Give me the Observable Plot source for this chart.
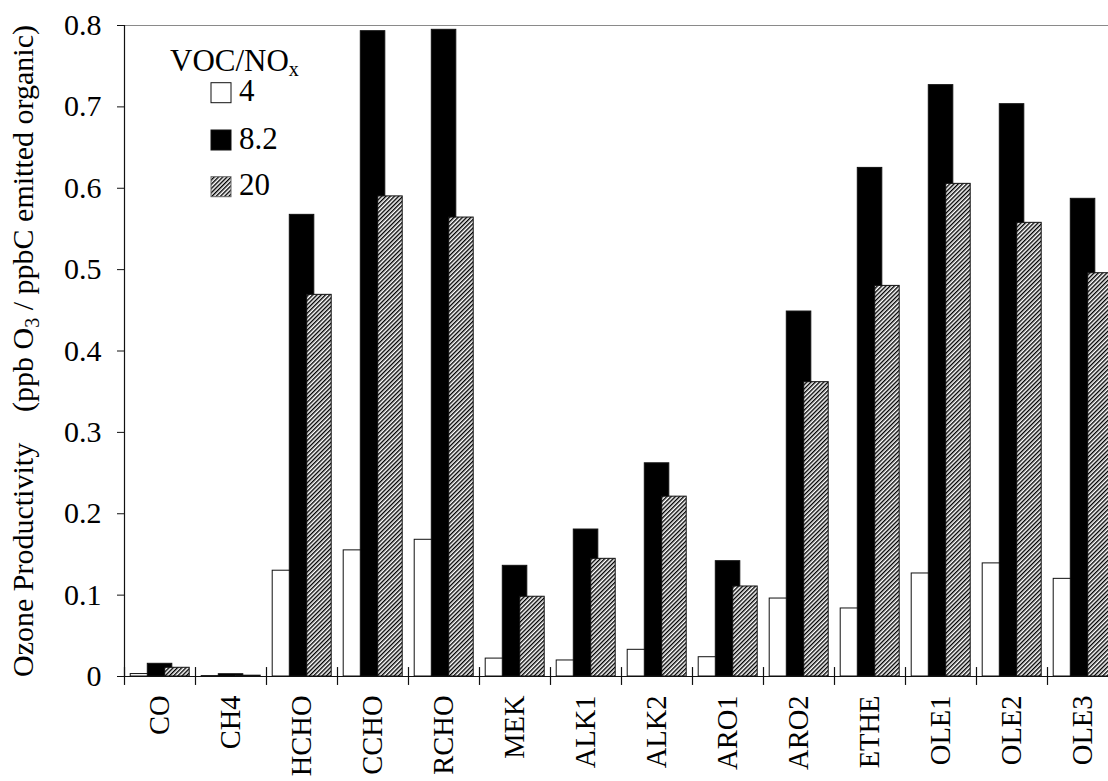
<!DOCTYPE html>
<html><head><meta charset="utf-8">
<script src="https://cdn.jsdelivr.net/npm/d3@7"></script>
<script src="https://cdn.jsdelivr.net/npm/@observablehq/plot@0.6"></script>
<style>
html,body{margin:0;padding:0;background:#fff;overflow:hidden;}
svg text{font-family:"Liberation Serif","Times New Roman",serif;}
</style></head><body><div id="chart"></div>
<script>
// ---- data ----
const categories = ["CO","CH4","HCHO","CCHO","RCHO","MEK","ALK1","ALK2","ARO1","ARO2","ETHE","OLE1","OLE2","OLE3"];
const seriesNames = ["4","8.2","20"];
const ratio4   = [0.003, 0.0005, 0.130, 0.155, 0.168, 0.022, 0.0197, 0.0328, 0.0237, 0.0958, 0.0836, 0.1266, 0.139, 0.120];
const ratio8_2 = [0.0156, 0.0028, 0.5673, 0.793, 0.7947, 0.136, 0.1806, 0.262, 0.1417, 0.4485, 0.625, 0.7267, 0.7033, 0.587];
const ratio20  = [0.0107, 0.001, 0.469, 0.590, 0.564, 0.098, 0.1446, 0.221, 0.1106, 0.3617, 0.480, 0.6054, 0.5575, 0.4956];
const yTicks = [0, 0.1, 0.2, 0.3, 0.4, 0.5, 0.6, 0.7, 0.8];
const yLabelA = "Ozone Productivity";
const legendTitle = "VOC/NO";

// ---- layout ----
const W = 1120, H = 781, mL = 124, mR = 2, mT = 25, mB = 105;
const step = (W - mL - mR) / categories.length;
const rows = (vals) => categories.map((c, i) => ({cat: c, v: vals[i]}));
const font = "Liberation Serif";
// bar placement inside each band (fractions of the band)
const fStart = [6.2, 23.3, 40.7].map(d => d / 71), fWidth = 24.5 / 71;
const ins = (k) => ({insetLeft: step * fStart[k], insetRight: step - step * (fStart[k] + fWidth)});

const svg = Plot.plot({
  width: W, height: H,
  marginLeft: mL, marginRight: mR, marginTop: mT, marginBottom: mB,
  style: {fontFamily: font, fontSize: "30px", color: "black", background: "white", maxWidth: "none", overflow: "hidden"},
  x: {type: "band", domain: categories, padding: 0},
  y: {domain: [0, 0.8]},
  marks: [
    Plot.ruleY([0.8], {stroke: "#8a8a8a", strokeWidth: 1.2}),
    Plot.barY(rows(ratio4),   {x: "cat", y: "v", fill: "white", stroke: "#111", strokeWidth: 1, ...ins(0)}),
    Plot.barY(rows(ratio8_2), {x: "cat", y: "v", fill: "black", stroke: "#111", strokeWidth: 1, ...ins(1)}),
    Plot.barY(rows(ratio20),  {x: "cat", y: "v", fill: "url(#hatch)", stroke: "#111", strokeWidth: 1, ...ins(2)}),
    Plot.ruleY([0], {stroke: "#111", strokeWidth: 1.2}),
    Plot.ruleX(categories, {x: d => d, dx: -step / 2, y1: -0.011, y2: 0.011, stroke: "#111", strokeWidth: 1.2}),
    Plot.ruleX([categories[0]], {x: d => d, dx: -step / 2, y1: 0, y2: 0.8, stroke: "#111", strokeWidth: 1.2}),
    Plot.axisY({ticks: yTicks, tickFormat: d => d === 0 ? "0" : d3.format(".1f")(d), tickSize: 7, tickPadding: 16, fontSize: 30, fontFamily: font, label: null, stroke: "#111"}),
    Plot.axisX({tickRotate: -90, tickSize: 0, tickPadding: 19, fontSize: 28.5, fontFamily: font, label: null})
  ]
});

const s = d3.select(svg);
// hatch pattern
const defs = s.insert("defs", ":first-child");
const pat = defs.append("pattern").attr("id", "hatch").attr("patternUnits", "userSpaceOnUse")
  .attr("width", 3).attr("height", 10).attr("patternTransform", "rotate(45)");
pat.append("rect").attr("width", 3).attr("height", 10).attr("fill", "white");
pat.append("rect").attr("width", 1.4).attr("height", 10).attr("fill", "black");

// y label
s.append("text").attr("transform", "translate(33,677) rotate(-90)").attr("text-anchor", "start")
  .attr("font-family", font).attr("font-size", 30).attr("fill", "black").text(yLabelA);
const yl = s.append("text").attr("transform", "translate(33,25) rotate(-90)").attr("text-anchor", "end")
  .attr("font-family", font).attr("font-size", 30).attr("fill", "black");
yl.append("tspan").text("(ppb O");
yl.append("tspan").attr("font-size", 20).attr("dy", 6).text("3");
yl.append("tspan").attr("dy", -6).text(" / ppbC emitted organic)");

// legend
const lg = s.append("g").attr("font-family", font).attr("fill", "black").attr("text-anchor", "start");
const lt = lg.append("text").attr("x", 170).attr("y", 71).attr("font-size", 31).attr("text-anchor", "start");
lt.append("tspan").text(legendTitle);
lt.append("tspan").attr("font-size", 20).attr("dy", 5).text("x");
const swFill = ["white", "black", "url(#hatch)"];
const swY = [82.7, 130, 176.7];
seriesNames.forEach((name, k) => {
  lg.append("rect").attr("x", 211).attr("y", swY[k]).attr("width", 20).attr("height", 20)
    .attr("fill", swFill[k]).attr("stroke", k === 2 ? "#666" : "#111").attr("stroke-width", 1);
  lg.append("text").attr("x", 239).attr("y", swY[k] + 18.5).attr("font-size", 31).attr("text-anchor", "start").text(name);
});

document.getElementById("chart").appendChild(svg);
</script></body></html>
